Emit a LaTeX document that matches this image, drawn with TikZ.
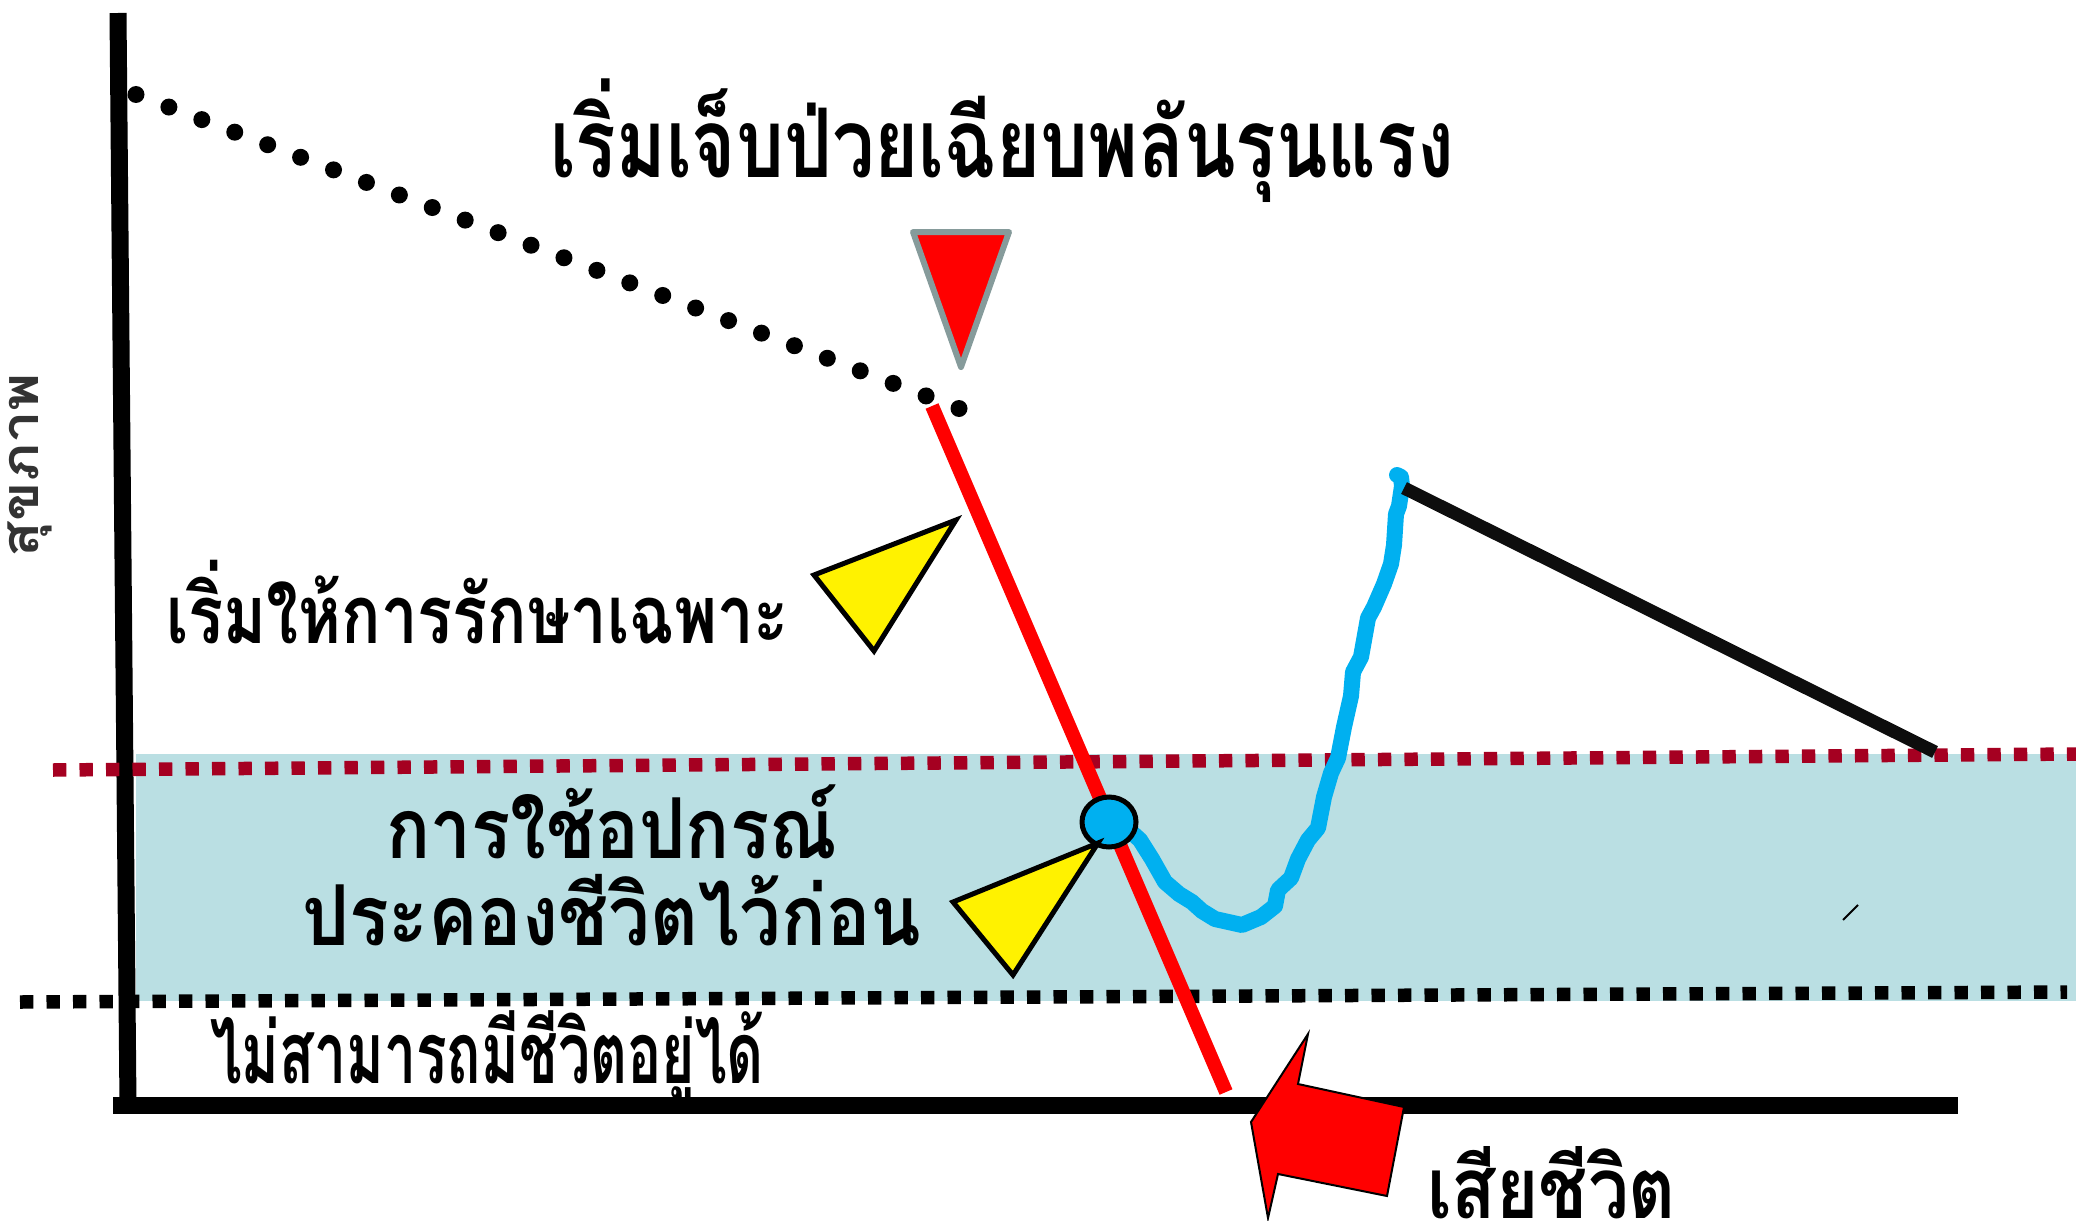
\documentclass[tikz,border=0pt]{standalone}
\usepackage{fontspec}
\usetikzlibrary{shapes.geometric}
\newfontfamily\thaifont[Script=Thai]{Loma}
\definecolor{bandcol}{HTML}{BADFE3}
\definecolor{dashred}{HTML}{A50021}
\definecolor{trigray}{HTML}{869B9B}
\definecolor{curveblue}{HTML}{00B0F0}
\definecolor{labelgray}{HTML}{333333}
\newcommand\thtext[3]{\resizebox{#2}{\height}{\fontsize{#1}{#1}\selectfont\thaifont\bfseries #3}}
\tikzset{
  axisline/.style={line width=17pt, black},
  reddash/.style={line width=13.5pt, draw=dashred, dash pattern=on 13.3pt off 13.2pt},
  blackdash/.style={line width=13.5pt, draw=black, dash pattern=on 13.3pt off 13.2pt},
  yellowtri/.style={fill=yellow, draw=black, line width=5pt, line join=miter},
  thlabel/.style={anchor=base west, inner sep=0pt, outer sep=0pt},
}
\begin{document}
\begin{tikzpicture}[x=1pt,y=-1pt]
\useasboundingbox (0,0) rectangle (2076,1220);
% band
\fill[bandcol] (136,754) rectangle (2076,1001);
% dashed limits
\coordinate (rdL) at (53,770); \coordinate (rdR) at (2076,754);
\coordinate (bdL) at (20,1002); \coordinate (bdR) at (2067,992);
% axes
\coordinate (yTop) at (118,13); \coordinate (yBot) at (128,1105);
\coordinate (xL) at (113,1105); \coordinate (xR) at (1958,1105);
\draw[axisline] (yTop) -- (yBot);
\draw[axisline] (xL) -- (xR);
\draw[reddash] (rdL) -- (rdR);
\draw[blackdash] (bdL) -- (bdR);
% dotted decline
\foreach \i in {0,...,25} \fill ({136+\i*32.92},{94.5+\i*12.56}) circle (8.5);
% red steep decline
\coordinate (redTop) at (932,406); \coordinate (redBot) at (1226,1092);
\draw[red, line width=14pt] (redTop) -- (redBot);
% blue recovery curve
\draw[curveblue, line width=16pt, line join=round, line cap=round]
 (1120,822) -- (1140,840) -- (1152,859) -- (1165,882) -- (1179,894) -- (1192,902) -- (1202,911)
 -- (1215,919) -- (1242,925) -- (1261,917) -- (1275,906) -- (1278,890) -- (1291,878) -- (1298,859)
 -- (1308,840) -- (1318,828) -- (1324,797) -- (1331,773) -- (1338,758) -- (1344,727) -- (1351,696)
 -- (1353,672) -- (1361,657) -- (1368,618) -- (1374,607) -- (1384,584) -- (1391,564) -- (1394,545)
 -- (1396,514) -- (1399,506) -- (1402,486) -- (1401,477) -- (1397,475);
% black decline after recovery
\coordinate (bkTop) at (1404,488); \coordinate (bkBot) at (1935,752);
\draw[black!95, line width=13pt] (bkTop) -- (bkBot);
% small slash
\coordinate (slA) at (1843,920); \coordinate (slB) at (1858,905);
\draw[black, line width=2pt] (slA) -- (slB);
% blue point
\node[draw=black, line width=5pt, fill=curveblue, ellipse, minimum width=54pt, minimum height=50pt, inner sep=0pt] (pt) at (1109,822) {};
% triangles
\draw[fill=red, draw=trigray, line width=6pt, line join=round] (913,232) -- (1009,232) -- (961,367) -- cycle;
\draw[yellowtri] (814,575) -- (956,520) -- (874,651) -- cycle;
\draw[yellowtri] (953,902) -- (1098,843) -- (1013,975) -- cycle;
% red arrow
\draw[fill=red, draw=black, line width=2pt, line join=miter]
 (1308,1034) -- (1298,1084) -- (1404,1107) -- (1387,1196) -- (1278,1174) -- (1268,1218) -- (1251,1122) -- cycle;
% texts
\node[thlabel] (title) at (550,177) {\thtext{96pt}{904pt}{เริ่มเจ็บป่วยเฉียบพลันรุนแรง}};
\node[thlabel] (treat) at (166,643) {\thtext{81pt}{623pt}{เริ่มให้การรักษาเฉพาะ}};
\node[thlabel] (dev1) at (386,858) {\thtext{84pt}{451pt}{การใช้อปกรณ์}};
\node[thlabel] (dev2) at (302,945) {\thtext{84pt}{619pt}{ประคองชีวิตไว้ก่อน}};
\node[thlabel] (nolife) at (210,1083) {\thtext{86pt}{554pt}{ไม่สามารถมีชีวิตอยู่ได้}};
\node[thlabel] (death) at (1427,1218) {\thtext{85pt}{249pt}{เสียชีวิต}};
\node[thlabel, rotate=90, text=labelgray] (health) at (38,557) {\thtext{52pt}{184pt}{สุขภาพ}};
\end{tikzpicture}
\end{document}
